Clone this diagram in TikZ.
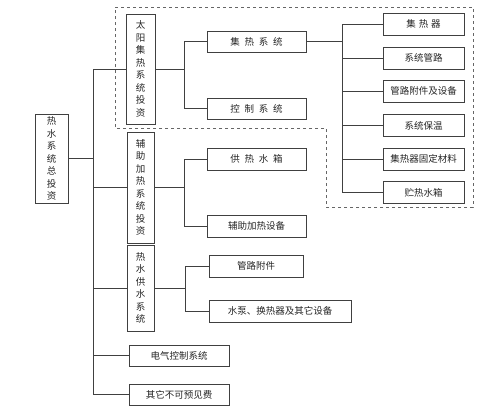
\documentclass[tikz,border=0pt]{standalone}
\usepackage{fontspec}
\newfontfamily\cjk{Noto Sans CJK SC}
\tikzset{
  box/.style={draw=black!75, line width=0.8pt, fill=white, inner sep=0pt, font=\cjk\fontsize{9.5}{12.5}\selectfont, text=black!85, align=center},
  conn/.style={draw=black!75, line width=0.8pt},
  dashedframe/.style={draw=black!60, line width=0.8pt, dash pattern=on 3pt off 3pt}
}
\begin{document}
\begin{tikzpicture}[x=1pt,y=-1pt]
\useasboundingbox (0,0) rectangle (500,407);
\fill[white] (0,0) rectangle (500,407);
% dashed frame
\draw[dashedframe] (115,7) -- (473,7) -- (473,207) -- (326,207) -- (326,128) -- (115,128) -- cycle;
% nodes
\node[box, minimum width=33pt, minimum height=89pt] (root) at (51.5,158.5) {热\\水\\系\\统\\总\\投\\资};
\node[box, minimum width=29pt, minimum height=110pt] (solar) at (140.5,69) {太\\阳\\集\\热\\系\\统\\投\\资};
\node[box, minimum width=27pt, minimum height=111pt] (aux) at (140.5,187.5) {辅\\助\\加\\热\\系\\统\\投\\资};
\node[box, minimum width=27pt, minimum height=86pt] (supply) at (140.5,288) {热\\水\\供\\水\\系\\统};
\node[box, minimum width=99pt, minimum height=21pt] (jr) at (256.5,41.5) {集\hspace{0.5em}热\hspace{0.5em}系\hspace{0.5em}统};
\node[box, minimum width=99pt, minimum height=21pt] (kz) at (256.5,108.5) {控\hspace{0.5em}制\hspace{0.5em}系\hspace{0.5em}统};
\node[box, minimum width=81pt, minimum height=22pt] (r1) at (423.5,24) {集\hspace{0.3em}热\hspace{0.3em}器};
\node[box, minimum width=81pt, minimum height=22pt] (r2) at (423.5,58) {系统管路};
\node[box, minimum width=81pt, minimum height=22pt] (r3) at (423.5,91) {管路附件及设备};
\node[box, minimum width=81pt, minimum height=22pt] (r4) at (423.5,125.5) {系统保温};
\node[box, minimum width=81pt, minimum height=22pt] (r5) at (423.5,159) {集热器固定材料};
\node[box, minimum width=81pt, minimum height=22pt] (r6) at (423.5,192.5) {贮热水箱};
\node[box, minimum width=99pt, minimum height=22pt] (gs) at (256.5,159) {供\hspace{0.5em}热\hspace{0.5em}水\hspace{0.5em}箱};
\node[box, minimum width=99pt, minimum height=22pt] (fz) at (256.5,226) {辅助加热设备};
\node[box, minimum width=94pt, minimum height=22pt] (gl) at (256,266) {管路附件};
\node[box, minimum width=142pt, minimum height=22pt] (sb) at (280,311) {水泵、换热器及其它设备};
\node[box, minimum width=100pt, minimum height=21pt] (dq) at (179,355.5) {电气控制系统};
\node[box, minimum width=100pt, minimum height=21pt] (qt) at (179,394.5) {其它不可预见费};
% junction coordinates
\coordinate (t0) at (93,0);
\coordinate (s0) at (184,0);
\coordinate (a0) at (184,0);
\coordinate (p0) at (185,0);
\coordinate (c0) at (342,0);
% trunk
\draw[conn] (root.east) -- (root.east -| t0);
\draw[conn] (solar.west) -- (solar.west -| t0) |- (qt.west);
\draw[conn] (aux.west) -- (aux.west -| t0);
\draw[conn] (supply.west) -- (supply.west -| t0);
\draw[conn] (dq.west) -- (dq.west -| t0);
% solar branch
\draw[conn] (solar.east) -- (solar.east -| s0);
\draw[conn] (jr.west) -- (jr.west -| s0) |- (kz.west);
% collector branch
\draw[conn] (jr.east) -- (jr.east -| c0);
\draw[conn] (r1.west) -- (r1.west -| c0) |- (r6.west);
\draw[conn] (r2.west) -- (r2.west -| c0);
\draw[conn] (r3.west) -- (r3.west -| c0);
\draw[conn] (r4.west) -- (r4.west -| c0);
\draw[conn] (r5.west) -- (r5.west -| c0);
% aux branch
\draw[conn] (aux.east) -- (aux.east -| a0);
\draw[conn] (gs.west) -- (gs.west -| a0) |- (fz.west);
% supply branch
\draw[conn] (supply.east) -- (supply.east -| p0);
\draw[conn] (gl.west) -- (gl.west -| p0) |- (sb.west);
\end{tikzpicture}
\end{document}
